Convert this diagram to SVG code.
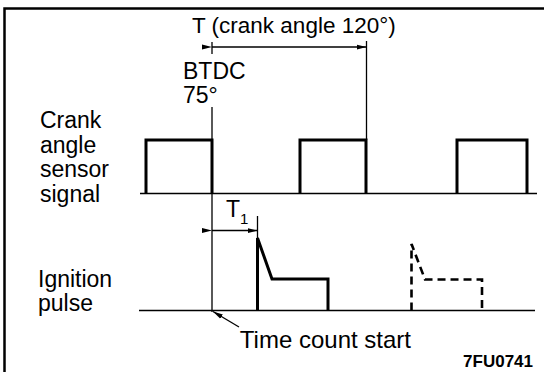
<svg xmlns="http://www.w3.org/2000/svg" width="544" height="372" viewBox="0 0 544 372">
<defs>
<style>
text{font-family:"Liberation Sans",Arial,sans-serif;fill:#000}
.lbl{font-size:23px}
.thin{fill:none;stroke:#000;stroke-width:1.3}
.base{fill:none;stroke:#000;stroke-width:1.6}
.sig{fill:none;stroke:#000;stroke-width:3;stroke-linejoin:miter}
.dash{fill:none;stroke:#000;stroke-width:2.6;stroke-dasharray:8,5}
.frame{fill:none;stroke:#000;stroke-width:2.5}
</style>
<marker id="ah" viewBox="0 0 10 6" refX="10" refY="3" markerWidth="10" markerHeight="6" markerUnits="userSpaceOnUse" orient="auto">
<path d="M0,0.5 L10,3 L0,5.5 Z" fill="#000"/>
</marker>
</defs>
<path class="frame" d="M4.5,372 V8.5 H544"/>
<g id="labels">
<text class="lbl" x="192" y="33" style="font-size:22.5px">T (crank angle 120°)</text>
<text class="lbl" x="183" y="79">BTDC</text>
<text class="lbl" x="183" y="103">75°</text>
<text class="lbl" x="40" y="128">Crank</text>
<text class="lbl" x="40" y="152.5">angle</text>
<text class="lbl" x="40" y="177">sensor</text>
<text class="lbl" x="40" y="201.5">signal</text>
<text class="lbl" x="38" y="287">Ignition</text>
<text class="lbl" x="38" y="311">pulse</text>
<text class="lbl" x="226" y="217">T</text>
<text x="240" y="224" style="font-size:15px">1</text>
<text x="411" y="348" text-anchor="end" style="font-size:24px">Time count start</text>
<text x="533" y="367" text-anchor="end" style="font-size:17px;font-weight:bold">7FU0741</text>
</g>
<g id="crank-signal">
<path class="base" d="M140,193.5 H537"/>
<path class="sig" d="M146,193.5 V140 H212 V193.5"/>
<path class="sig" d="M300,193.5 V140 H366 V193.5"/>
<path class="sig" d="M457,193.5 V140 H527 V193.5"/>
</g>
<g id="ignition-pulse">
<path class="base" d="M139,310.5 H535"/>
<path class="sig" d="M257.5,310.5 V238 L272,279 H328 V310.5"/>
<path class="dash" d="M411.5,310.5 V244 L425,279.5 H482 V310.5"/>
</g>
<g id="connectors">
<path class="thin" d="M212,42 V54 M212,107 V312"/>
<path class="thin" d="M366.5,41 V140"/>
<path class="thin" d="M212,47 H366.5" marker-start="url(#ah)" marker-end="url(#ah)" style="stroke-dasharray:none"/>
<path class="thin" d="M257.5,216 V238"/>
<path class="thin" d="M212,230.5 H257.5" marker-start="url(#ah)" marker-end="url(#ah)"/>
<path class="thin" d="M239,327 L213,311.5" marker-end="url(#ah)"/>
</g>
</svg>
